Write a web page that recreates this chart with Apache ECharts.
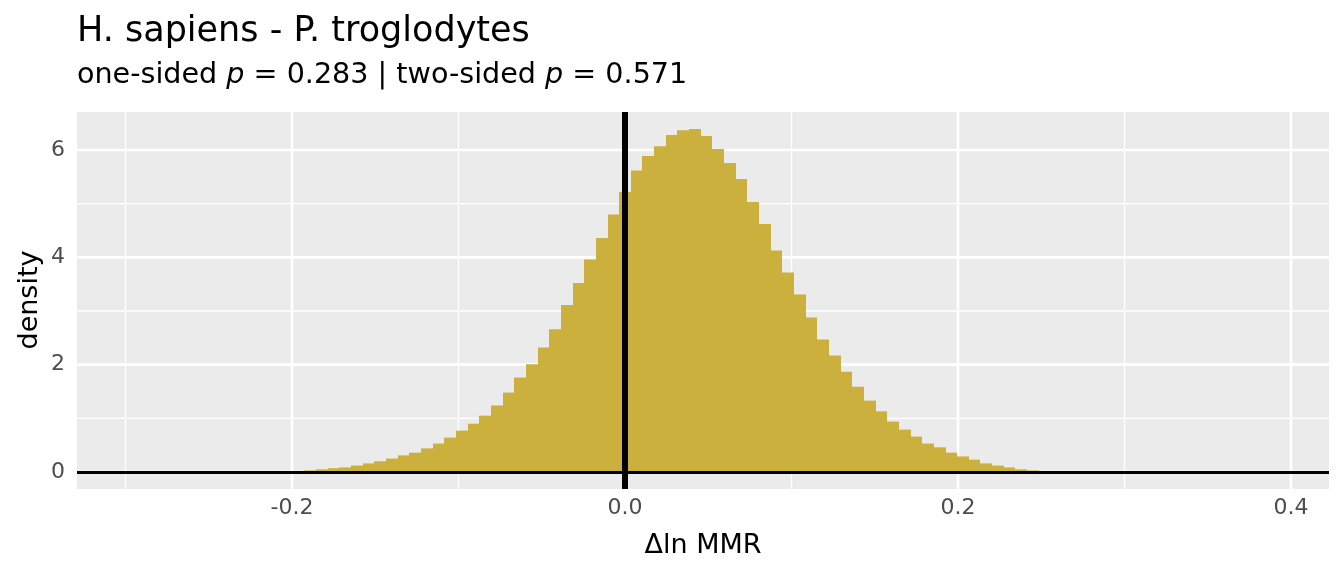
<!DOCTYPE html>
<html>
<head>
<meta charset="utf-8">
<script src="https://cdn.jsdelivr.net/npm/echarts@6/dist/echarts.min.js"></script>
<style>
html,body{margin:0;padding:0;background:#fff;}
#chart{width:1344px;height:576px;}
</style>
</head>
<body>
<div id="chart"></div>
<script>
// ---- data ----
const titleText = 'H. sapiens - P. troglodytes';
const oneSidedP = '0.283';
const twoSidedP = '0.571';
const xAxisTitle = 'Δln MMR';
const yAxisTitle = 'density';
const binWidth = 0.007;          // histogram bin width (bins centred on multiples of it)
const firstBinIndex = -28;       // index of first bin centre (centre = index * binWidth)
const densities = [
  0.01, 0.03, 0.05, 0.07, 0.085, 0.12, 0.16, 0.20, 0.25, 0.31,
  0.36, 0.44, 0.53, 0.64, 0.77, 0.90, 1.05, 1.24, 1.48, 1.76,
  2.01, 2.32, 2.66, 3.11, 3.52, 3.96, 4.36, 4.80, 5.22, 5.62,
  5.89, 6.07, 6.28, 6.37, 6.39, 6.26, 6.02, 5.76, 5.46, 5.03,
  4.62, 4.13, 3.72, 3.31, 2.88, 2.47, 2.17, 1.87, 1.59, 1.33,
  1.13, 0.94, 0.79, 0.66, 0.53, 0.46, 0.36, 0.29, 0.23, 0.16,
  0.12, 0.085, 0.05, 0.03, 0.015
];
const xMajorTicks = [-0.2, 0.0, 0.2, 0.4];
const xMinorTicks = [-0.3, -0.1, 0.1, 0.3];
const yMajorTicks = [0, 2, 4, 6];
const yMinorTicks = [1, 3, 5];
const refX = 0;   // vertical reference line
const refY = 0;   // horizontal reference line
const xRange = [-0.3291, 0.4228];
const yRange = [-0.317, 6.709];

// ---- build ----
const histData = densities.map((d, i) => [(firstBinIndex + i) * binWidth, d]);
const gridData = [];
xMajorTicks.forEach(v => gridData.push([v, 0, 1]));
xMinorTicks.forEach(v => gridData.push([v, 0, 0]));
yMajorTicks.forEach(v => gridData.push([0, v, 3]));
yMinorTicks.forEach(v => gridData.push([0, v, 2]));

const FONT = 'DejaVu Sans';
const chart = echarts.init(document.getElementById('chart'), null, {renderer: 'canvas'});

const option = {
  animation: false,
  backgroundColor: '#ffffff',
  grid: {
    left: 77, right: 15, top: 112, bottom: 87,
    show: true, backgroundColor: '#EBEBEB', borderWidth: 0,
    containLabel: false, outerBoundsMode: 'none'
  },
  xAxis: {
    type: 'value', min: xRange[0], max: xRange[1],
    axisLine: {show: false},
    splitLine: {show: false},
    axisTick: {show: true, customValues: xMajorTicks, length: 6, lineStyle: {color: '#333333', width: 2}},
    axisLabel: {
      customValues: xMajorTicks, margin: 8,
      color: '#4D4D4D', fontSize: 22, fontFamily: FONT,
      formatter: v => v.toFixed(1)
    }
  },
  yAxis: {
    type: 'value', min: yRange[0], max: yRange[1],
    axisLine: {show: false},
    splitLine: {show: false},
    axisTick: {show: true, customValues: yMajorTicks, length: 6, lineStyle: {color: '#333333', width: 2}},
    axisLabel: {
      customValues: yMajorTicks, margin: 12,
      color: '#4D4D4D', fontSize: 22, fontFamily: FONT,
      formatter: v => String(v)
    }
  },
  series: [
    {
      type: 'custom', name: 'grid', z: 1, silent: true,
      data: gridData,
      renderItem: function (params, api) {
        const xv = api.value(0), yv = api.value(1), kind = api.value(2);
        let p1, p2;
        if (kind <= 1) { p1 = api.coord([xv, yRange[0]]); p2 = api.coord([xv, yRange[1]]); }
        else { p1 = api.coord([xRange[0], yv]); p2 = api.coord([xRange[1], yv]); }
        const major = (kind === 1 || kind === 3);
        return {
          type: 'line',
          shape: {x1: p1[0], y1: p1[1], x2: p2[0], y2: p2[1]},
          style: {stroke: '#FFFFFF', lineWidth: major ? 2.6 : 1.3}
        };
      }
    },
    {
      type: 'custom', name: 'histogram', z: 2, silent: true,
      data: histData,
      renderItem: function (params, api) {
        const c = api.value(0), d = api.value(1);
        const a = api.coord([c - binWidth / 2, 0]);
        const b = api.coord([c + binWidth / 2, d]);
        const x0 = Math.round(a[0]), x1 = Math.round(b[0]);
        return {
          type: 'rect',
          shape: {x: x0, y: b[1], width: x1 - x0, height: a[1] - b[1]},
          style: {fill: '#CBB03D'}
        };
      },
      markLine: {
        silent: true, symbol: 'none', label: {show: false}, animation: false,
        data: [
          {yAxis: refY, lineStyle: {color: '#000000', width: 3, type: 'solid'}},
          {xAxis: refX, lineStyle: {color: '#000000', width: 6, type: 'solid'}}
        ]
      }
    }
  ],
  graphic: [
    {
      type: 'text', left: 77, top: 14, silent: true,
      style: {text: titleText, font: '35px "DejaVu Sans"', fill: '#000000'}
    },
    {
      type: 'text', left: 77, top: 61, silent: true,
      style: {
        text: 'one-sided {i|p} = ' + oneSidedP + ' | two-sided {i|p} = ' + twoSidedP,
        font: '28.6px "DejaVu Sans"', fill: '#000000',
        rich: {i: {fontStyle: 'italic', fontSize: 28.6, fontFamily: FONT, fill: '#000000'}}
      }
    },
    {
      type: 'text', x: 703, y: 546, silent: true,
      style: {text: xAxisTitle, font: '27px "DejaVu Sans"', fill: '#000000', align: 'center', verticalAlign: 'middle'}
    },
    {
      type: 'text', x: 30, y: 300, rotation: Math.PI / 2, silent: true,
      style: {text: yAxisTitle, font: '27px "DejaVu Sans"', fill: '#000000', align: 'center', verticalAlign: 'middle'}
    }
  ]
};
chart.setOption(option);
</script>
</body>
</html>
